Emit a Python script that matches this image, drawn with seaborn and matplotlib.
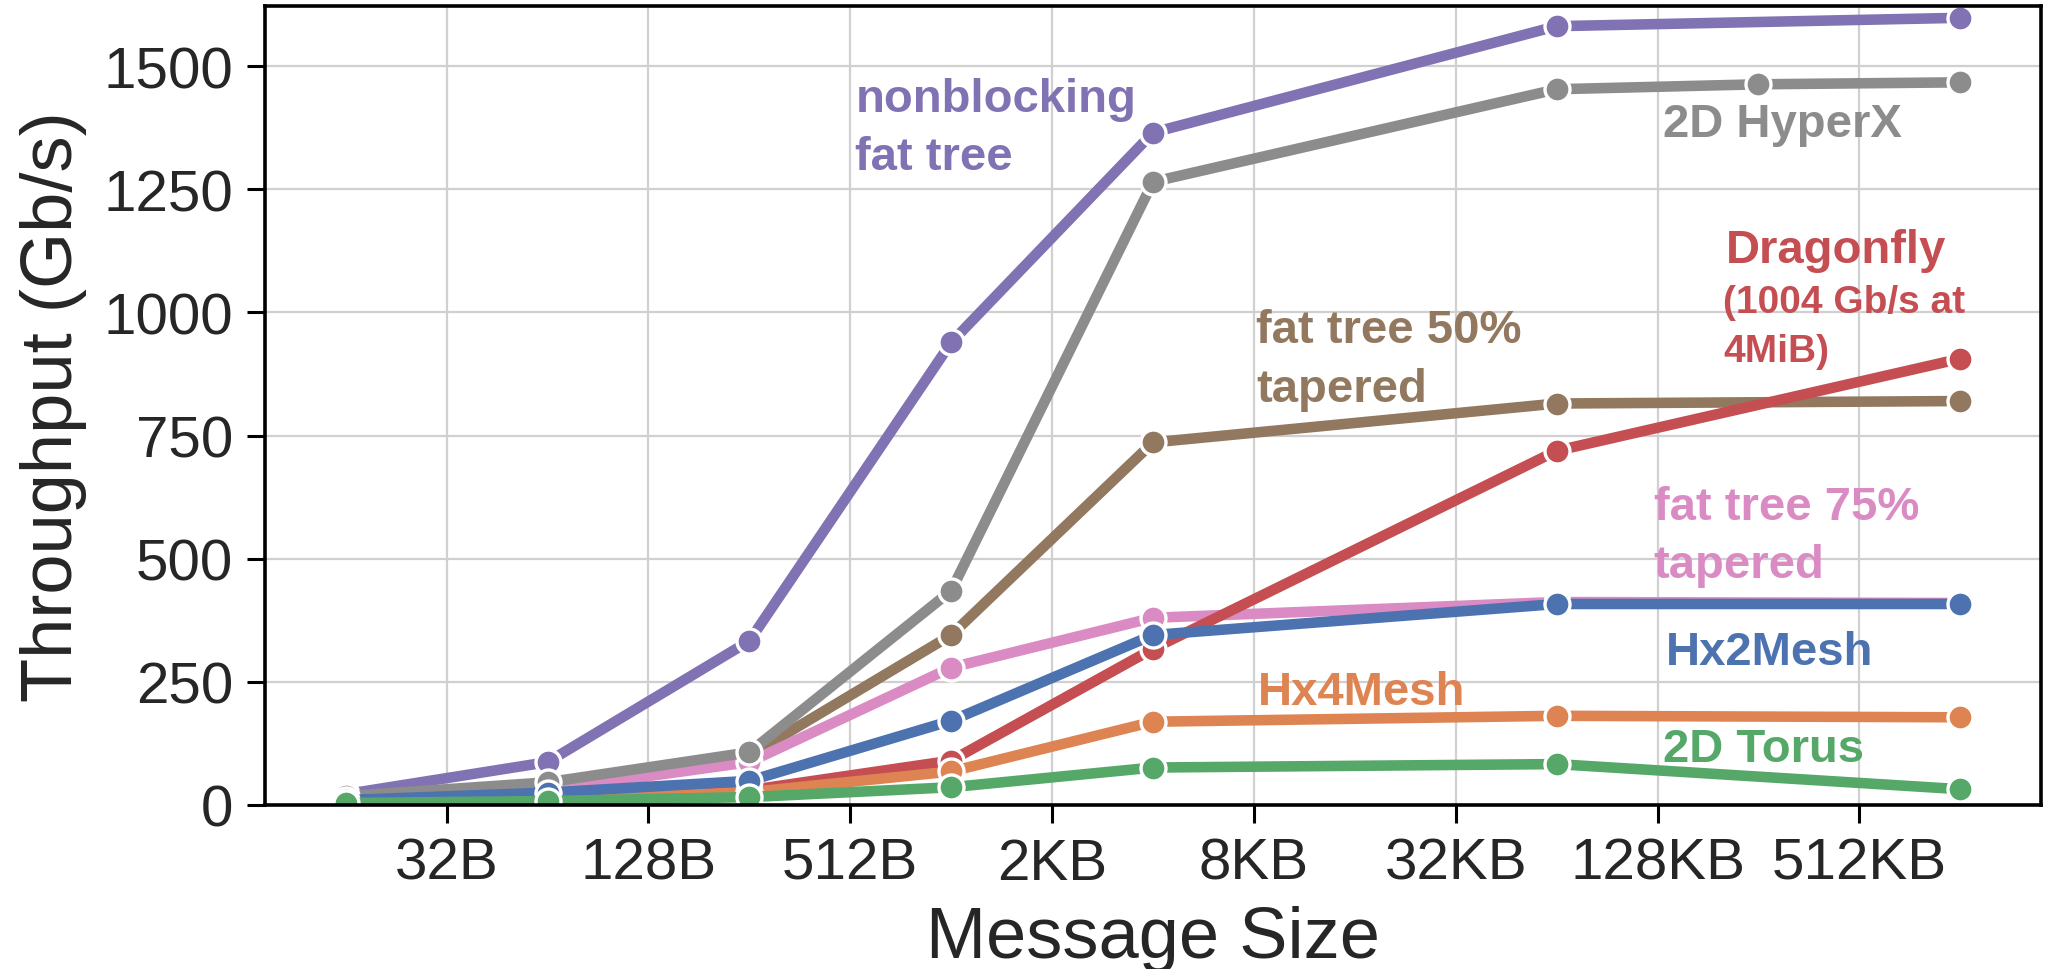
import numpy as np
import pandas as pd
import matplotlib
matplotlib.use("Agg")
import matplotlib.pyplot as plt
import seaborn as sns

# Message sizes in bytes
sizes = [16, 64, 256, 1024, 4096, 65536, 1048576]
sizes_hyperx = [16, 64, 256, 1024, 4096, 65536, 262144, 1048576]

# Throughput (Gb/s) per topology
nonblocking_fat_tree = [22, 87, 333, 939, 1365, 1581, 1598]
fat_tree_50 = [15, 40, 100, 345, 736, 815, 820]
fat_tree_75 = [14, 30, 87, 279, 380, 412, 410]
hyperx_2d = [18, 46, 107, 435, 1265, 1453, 1463, 1467]
dragonfly = [5, 12, 30, 90, 317, 719, 906]
hx4mesh = [5, 10, 26, 68, 169, 181, 178]
hx2mesh = [10, 25, 49, 171, 345, 408, 408]
torus_2d = [4, 8, 16, 36, 76, 83, 32]

tick_positions = [32, 128, 512, 2048, 8192, 32768, 131072, 524288]
tick_labels = ["32B", "128B", "512B", "2KB", "8KB", "32KB", "128KB", "512KB"]

series = [
    ("nonblocking fat tree", sizes, nonblocking_fat_tree),
    ("fat tree 50% tapered", sizes, fat_tree_50),
    ("fat tree 75% tapered", sizes, fat_tree_75),
    ("2D HyperX", sizes_hyperx, hyperx_2d),
    ("Dragonfly", sizes, dragonfly),
    ("Hx4Mesh", sizes, hx4mesh),
    ("Hx2Mesh", sizes, hx2mesh),
    ("2D Torus", sizes, torus_2d),
]
df = pd.concat(
    [pd.DataFrame({"topology": name, "size": x, "throughput": y}) for name, x, y in series],
    ignore_index=True,
)

deep = sns.color_palette("deep")
palette = {
    "Hx2Mesh": deep[0],
    "Hx4Mesh": deep[1],
    "2D Torus": deep[2],
    "Dragonfly": deep[3],
    "nonblocking fat tree": deep[4],
    "fat tree 50% tapered": deep[5],
    "fat tree 75% tapered": deep[6],
    "2D HyperX": deep[7],
}

sns.set_theme(style="whitegrid")
plt.rcParams["font.family"] = ["Liberation Sans", "DejaVu Sans"]
plt.rcParams.update({
    "axes.edgecolor": "black",
    "axes.linewidth": 1.3,
    "grid.color": "#d0d0d0",
    "grid.linewidth": 0.8,
    "xtick.bottom": True,
    "ytick.left": True,
    "xtick.major.size": 6.5,
    "ytick.major.size": 6.5,
    "xtick.major.width": 1.1,
    "ytick.major.width": 1.1,
    "xtick.color": "black",
    "ytick.color": "black",
    "xtick.labelcolor": "#262626",
    "ytick.labelcolor": "#262626",
})

fig = plt.figure(figsize=(10.24, 4.85), dpi=200)
ax = fig.add_axes([0.1294, 0.1691, 0.8672, 0.8237])
ax.set_xscale("log", base=2)

sns.lineplot(
    data=df, x="size", y="throughput", hue="topology",
    hue_order=[s[0] for s in series], palette=palette,
    marker="o", markersize=9, markeredgecolor="white", markeredgewidth=1.2,
    linewidth=3.8, legend=False, ax=ax,
)

ax.set_ylim(0, 1622)
ax.set_yticks([0, 250, 500, 750, 1000, 1250, 1500])
ax.set_xticks(tick_positions)
ax.set_xticklabels(tick_labels)
ax.xaxis.set_minor_locator(matplotlib.ticker.NullLocator())
ax.tick_params(axis="both", labelsize=21, pad=5)
ax.set_xlabel("Message Size", fontsize=26, labelpad=5)
ax.set_ylabel("Throughput (Gb/s)", fontsize=26, labelpad=6)
for side in ["top", "right", "bottom", "left"]:
    ax.spines[side].set_visible(True)
    ax.spines[side].set_color("black")

# Direct labels for each curve
def label(log2x, y, text, color, size=17):
    ax.text(2 ** log2x, y, text, color=color, fontsize=size, fontweight="bold",
            ha="left", va="baseline")

label(9.05, 1408, "nonblocking", palette["nonblocking fat tree"])
label(9.05, 1291, "fat tree", palette["nonblocking fat tree"])
label(17.05, 1358, "2D HyperX", palette["2D HyperX"])
label(17.68, 1102, "Dragonfly", palette["Dragonfly"])
label(17.65, 1000, "(1004 Gb/s at", palette["Dragonfly"], size=14)
label(17.65, 901, "4MiB)", palette["Dragonfly"], size=14)
label(13.02, 940, "fat tree 50%", palette["fat tree 50% tapered"])
label(13.02, 820, "tapered", palette["fat tree 50% tapered"])
label(16.96, 580, "fat tree 75%", palette["fat tree 75% tapered"])
label(16.96, 463, "tapered", palette["fat tree 75% tapered"])
label(17.08, 286, "Hx2Mesh", palette["Hx2Mesh"])
label(13.04, 205, "Hx4Mesh", palette["Hx4Mesh"])
label(17.05, 89, "2D Torus", palette["2D Torus"])

fig.savefig("out.png", dpi=200)
